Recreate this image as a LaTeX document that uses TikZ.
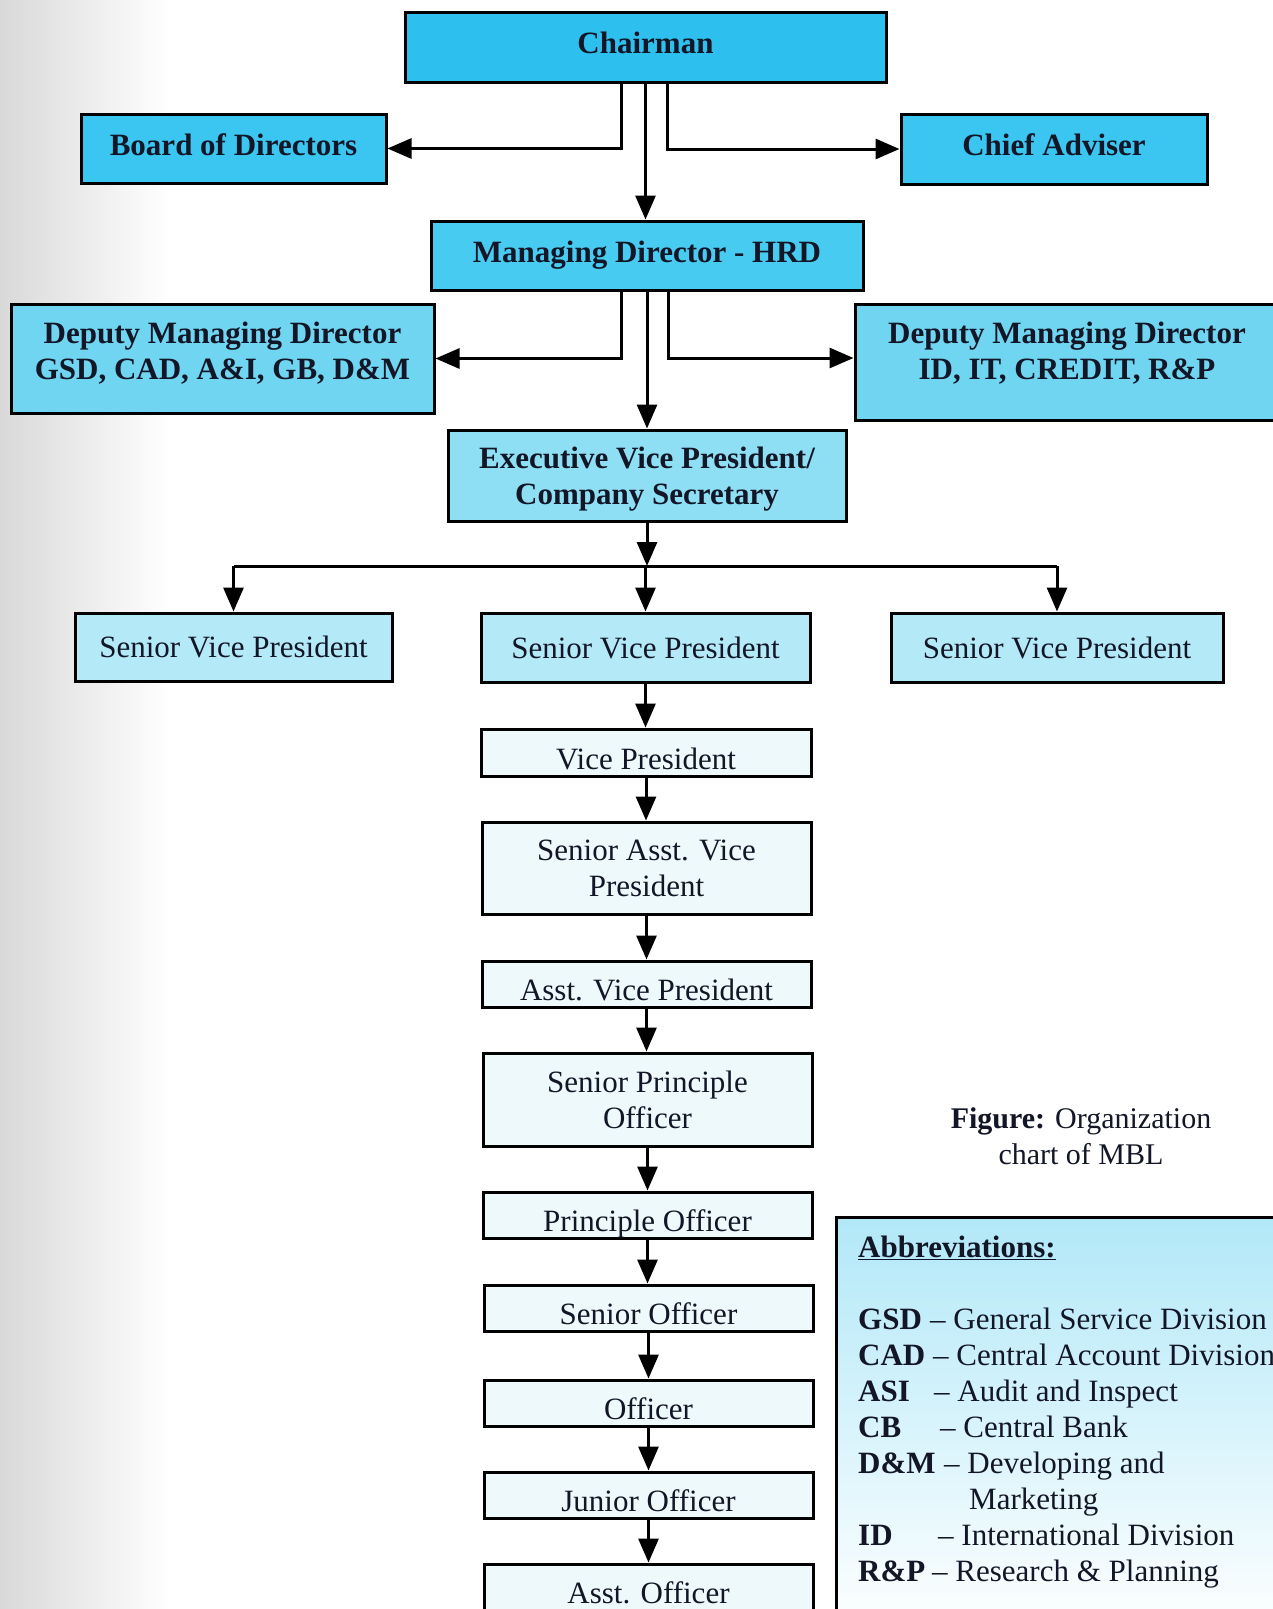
\documentclass[tikz,border=0pt]{standalone}
\usepackage{fontspec}
\setmainfont{Liberation Serif}
\usetikzlibrary{arrows.meta}
\definecolor{chairC}{RGB}{45,192,238}
\definecolor{topC}{RGB}{58,198,240}
\definecolor{mdC}{RGB}{72,203,240}
\definecolor{dmdC}{RGB}{112,213,241}
\definecolor{evpC}{RGB}{142,223,244}
\definecolor{svpC}{RGB}{180,233,248}
\definecolor{lowC}{RGB}{238,249,252}
\definecolor{abbrC}{RGB}{178,232,248}
\definecolor{txt}{RGB}{18,22,38}
\begin{document}
\begin{tikzpicture}[x=1pt,y=-1pt,
  box/.style={draw=black, line width=3pt, inner sep=0pt, align=center, text=txt,
    font=\fontsize{31}{36}\selectfont\bfseries},
  lvl/.style={draw=black, line width=3pt, inner sep=0pt, align=center, text=txt,
    font=\fontsize{31}{36}\selectfont},
  lowbox/.style={lvl, fill=lowC, minimum width=329pt, minimum height=46pt,
    text height=39pt, text depth=7pt, inner ysep=0pt},
  tallbox/.style={lvl, fill=lowC, minimum width=329pt},
  arr/.style={line width=3pt, draw=black, -{Triangle[length=24pt,width=20pt]}},
  ln/.style={line width=3pt, draw=black},
  abbtxt/.style={anchor=base west, inner sep=0pt, text=txt, font=\fontsize{31}{36}\selectfont}
]
\useasboundingbox (0,0) rectangle (1273,1609);
\shade[left color=black!15, right color=white] (0,0) rectangle (170,1609);

% top level
\node[box, fill=chairC, minimum width=481pt, minimum height=70pt, text depth=8pt] (chair) at (645.5,47) {Chairman};
\node[box, fill=topC, minimum width=305pt, minimum height=69pt, text depth=8pt] (board) at (233.5,148.5) {Board of Directors};
\node[box, fill=topC, minimum width=306pt, minimum height=70pt, text depth=8pt] (chief) at (1054,149) {Chief Adviser};
\node[box, fill=mdC, minimum width=432pt, minimum height=69pt] (md) at (647,255.5) {Managing Director - HRD};
\node[box, fill=dmdC, minimum width=423pt, minimum height=109pt, text depth=15pt] (dmdl) at (222.5,358.5) {Deputy Managing Director\\GSD, CAD, A\&I, GB, D\&M};
\node[box, fill=dmdC, minimum width=424pt, minimum height=116pt, text depth=22pt] (dmdr) at (1067,362) {Deputy Managing Director\\ID, IT, CREDIT, R\&P};
\node[box, fill=evpC, minimum width=398pt, minimum height=91pt, text depth=0pt] (evp) at (647,475.5) {Executive Vice President/\\Company Secretary};

% senior vice presidents
\node[lvl, fill=svpC, minimum width=317pt, minimum height=68pt] (svpl) at (233.5,647) {Senior Vice President};
\node[lvl, fill=svpC, minimum width=329pt, minimum height=69pt] (svpm) at (645.5,647.5) {Senior Vice President};
\node[lvl, fill=svpC, minimum width=332pt, minimum height=69pt] (svpr) at (1057,647.5) {Senior Vice President};

% lower chain
\node[lowbox, minimum width=330pt, minimum height=47pt, text height=40pt] (vp) at (646,752.5) {Vice President};
\node[tallbox, minimum height=92pt] (savp) at (646.5,868) {Senior Asst. Vice\\President};
\node[lowbox] (avp) at (646.5,984) {Asst. Vice President};
\node[tallbox, minimum height=93pt] (spo) at (647.5,1099.5) {Senior Principle\\Officer};
\node[lowbox] (po) at (647.5,1215) {Principle Officer};
\node[lowbox] (so) at (648.5,1308) {Senior Officer};
\node[lowbox] (off) at (648.5,1403) {Officer};
\node[lowbox] (jo) at (648.5,1495) {Junior Officer};
\node[lowbox] (ao) at (648.5,1587) {Asst. Officer};

% connectors from chairman
\draw[arr] ([xshift=-24pt]chair.south) |- (board.east);
\draw[arr] ([xshift=22pt]chair.south) |- (chief.west);
\draw[arr] (chair.south) -- (chair.south |- md.north);
% connectors from managing director
\draw[arr] ([xshift=-26pt]md.south) |- (dmdl.east);
\draw[arr] ([xshift=21pt]md.south) |- ([yshift=4pt]dmdr.west);
\draw[arr] (md.south) -- (md.south |- evp.north);
% EVP to senior vice presidents
\coordinate (bar) at (647,566);
\draw[arr] (evp.south) -- (bar);
\draw[ln] (svpl.north |- bar) -- (svpr.north |- bar);
\draw[arr] (svpl.north |- bar) -- (svpl.north);
\draw[arr] (svpm.north |- bar) -- (svpm.north);
\draw[arr] (svpr.north |- bar) -- (svpr.north);
% chain
\draw[arr] (svpm.south) -- (svpm.south |- vp.north);
\draw[arr] (vp.south) -- (vp.south |- savp.north);
\draw[arr] (savp.south) -- (savp.south |- avp.north);
\draw[arr] (avp.south) -- (avp.south |- spo.north);
\draw[arr] (spo.south) -- (spo.south |- po.north);
\draw[arr] (po.south) -- (po.south |- so.north);
\draw[arr] (so.south) -- (so.south |- off.north);
\draw[arr] (off.south) -- (off.south |- jo.north);
\draw[arr] (jo.south) -- (jo.south |- ao.north);

% caption
\node[align=center, text=txt, font=\fontsize{30}{36}\selectfont] (cap) at (1081,1136) {\textbf{Figure:} Organization\\chart of MBL};

% abbreviations box
\node[draw=black, line width=3pt, anchor=north west, minimum width=470pt, minimum height=420pt,
  inner sep=0pt, top color=abbrC, bottom color=white] (abbr) at (835,1216) {};
\node[abbtxt, font=\fontsize{31}{36}\selectfont\bfseries] (abt) at (858,1257) {\underline{Abbreviations:}};
\node[abbtxt, font=\fontsize{31}{36}\selectfont\bfseries] (a1) at (858,1329) {GSD};
\node[abbtxt] (d1) at (930,1329) {– General Service Division};
\node[abbtxt, font=\fontsize{31}{36}\selectfont\bfseries] (a2) at (858,1365) {CAD};
\node[abbtxt] (d2) at (933,1365) {– Central Account Division};
\node[abbtxt, font=\fontsize{31}{36}\selectfont\bfseries] (a3) at (858,1401) {ASI};
\node[abbtxt] (d3) at (934,1401) {– Audit and Inspect};
\node[abbtxt, font=\fontsize{31}{36}\selectfont\bfseries] (a4) at (858,1437) {CB};
\node[abbtxt] (d4) at (940,1437) {– Central Bank};
\node[abbtxt, font=\fontsize{31}{36}\selectfont\bfseries] (a5) at (858,1473) {D\&M};
\node[abbtxt] (d5) at (944,1473) {– Developing and};
\node[abbtxt] (d5b) at (969,1509) {Marketing};
\node[abbtxt, font=\fontsize{31}{36}\selectfont\bfseries] (a6) at (858,1545) {ID};
\node[abbtxt] (d6) at (938,1545) {– International Division};
\node[abbtxt, font=\fontsize{31}{36}\selectfont\bfseries] (a7) at (858,1581) {R\&P};
\node[abbtxt] (d7) at (932,1581) {– Research \& Planning};
\end{tikzpicture}
\end{document}
